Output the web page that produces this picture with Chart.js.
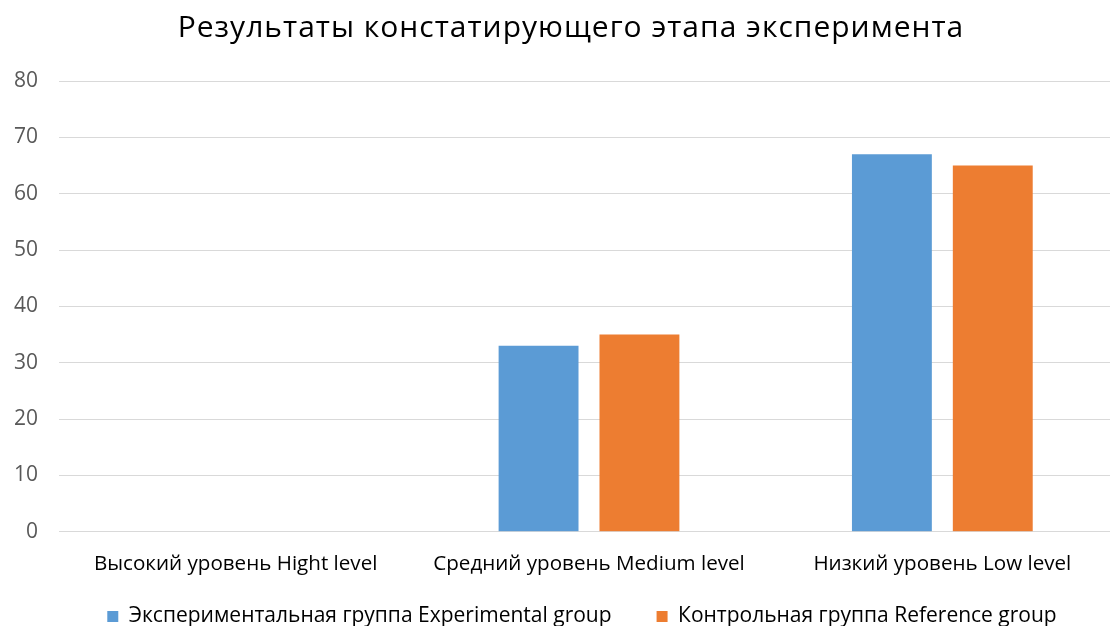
<!DOCTYPE html>
<html>
<head>
<meta charset="utf-8">
<script src="https://cdn.jsdelivr.net/npm/chart.js@4"></script>
<style>
html,body{margin:0;padding:0;background:#fff;overflow:hidden;}
#wrap{width:1142px;height:626px;position:relative;}
</style>
</head>
<body>
<div id="wrap"><canvas id="c"></canvas></div>
<script>
const categories = ["Высокий уровень Hight level", "Средний уровень Medium level", "Низкий уровень Low level"];
const seriesNames = ["Экспериментальная группа Experimental group", "Контрольная группа Reference group"];
const experimental = [0, 33, 67];
const reference = [0, 35, 65];
const yTicks = [0, 10, 20, 30, 40, 50, 60, 70, 80];

const tweaks = {
  id: 'tweaks',
  afterInit(chart) {
    const tb = chart.titleBlock;
    if (tb) {
      const orig = tb.draw.bind(tb);
      tb.draw = function (area) {
        const ctx = chart.ctx;
        ctx.save();
        ctx.translate(4.5, 0);
        ctx.letterSpacing = '1px';
        orig(area);
        ctx.letterSpacing = '0px';
        ctx.restore();
      };
    }
    const lg = chart.legend;
    if (lg) {
      const origFit = lg.fit.bind(lg);
      lg.fit = function () {
        origFit();
        this.height = 50;
      };
      const origDraw = lg.draw.bind(lg);
      lg.draw = function (area) {
        const ctx = chart.ctx;
        ctx.save();
        ctx.translate(15.5, -15);
        if (typeof this._draw === 'function') { this._draw(); } else { origDraw(area); }
        ctx.restore();
      };
    }
  }
};

new Chart(document.getElementById('c'), {
  type: 'bar',
  plugins: [tweaks],
  data: {
    labels: categories,
    datasets: [
      {label: seriesNames[0], data: experimental, backgroundColor: '#5B9BD5', categoryPercentage: 0.571, barPercentage: 0.792},
      {label: seriesNames[1], data: reference, backgroundColor: '#ED7D31', categoryPercentage: 0.571, barPercentage: 0.792}
    ]
  },
  options: {
    responsive: true,
    maintainAspectRatio: false,
    animation: false,
    layout: {padding: {left: 14, right: 23, top: 0, bottom: 0}},
    plugins: {
      title: {
        display: true,
        text: 'Результаты констатирующего этапа эксперимента',
        color: '#000',
        font: {family: 'Open Sans', size: 30, weight: 'normal', lineHeight: 1.2},
        padding: {top: 10, bottom: 35}
      },
      legend: {
        position: 'bottom',
        labels: {
          color: '#000',
          font: {family: 'Open Sans', size: 21},
          boxWidth: 11, boxHeight: 11,
          padding: 45
        }
      },
      tooltip: {enabled: false}
    },
    scales: {
      x: {
        grid: {display: false, drawTicks: false},
        border: {display: false},
        ticks: {color: '#000', font: {family: 'Open Sans', size: 20.6}, padding: 19.6, maxRotation: 0},
        afterFit: (s) => { s.height = 44.3; }
      },
      y: {
        min: 0, max: 80,
        afterBuildTicks: (s) => { s.ticks = yTicks.map(v => ({value: v})); },
        grid: {color: '#D9D9D9', lineWidth: 1, drawTicks: false},
        border: {display: false},
        ticks: {color: '#595959', font: {family: 'Open Sans', size: 21}, padding: 21},
        afterFit: (s) => { s.width = 45; }
      }
    }
  }
});
</script>
</body>
</html>
